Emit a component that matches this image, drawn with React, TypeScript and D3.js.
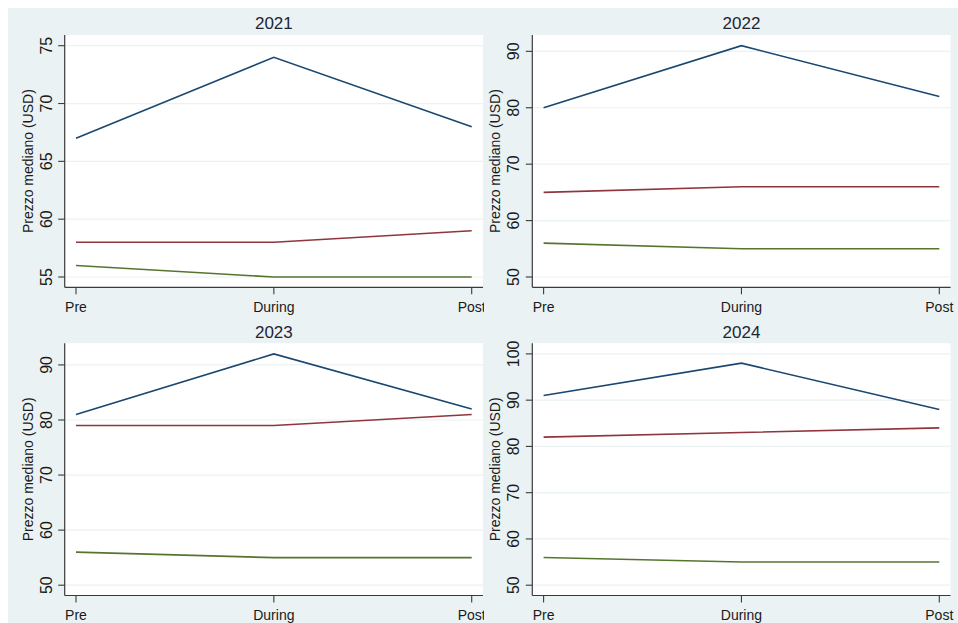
import React, { useEffect } from "react";
import * as d3 from "d3";

// Median price by period, one panel per year
const years = ["2021", "2022", "2023", "2024"];
const periods = ["Pre", "During", "Post"];
const topTier = [
  [67, 74, 68],
  [80, 91, 82],
  [81, 92, 82],
  [91, 98, 88],
];
const midTier = [
  [58, 58, 59],
  [65, 66, 66],
  [79, 79, 81],
  [82, 83, 84],
];
const lowTier = [
  [56, 55, 55],
  [56, 55, 55],
  [56, 55, 55],
  [56, 55, 55],
];
const yTicks = [
  [55, 60, 65, 70, 75],
  [50, 60, 70, 80, 90],
  [50, 60, 70, 80, 90],
  [50, 60, 70, 80, 90, 100],
];
const yTitle = "Prezzo mediano (USD)";

const PAGE_W = 958;
const PAGE_H = 623;
const INSET = 8;
const W = PAGE_W - INSET;
const H = PAGE_H - INSET;
const BG = "#eaf2f3";
const FONT = "'Liberation Sans', Arial, Helvetica, sans-serif";
const seriesColors = ["#1a476f", "#90353b", "#55752f"];

// plot-region geometry for the top-left panel; others are offset
const plotLeft = 56.7;
const plotRight = 475;
const plotTop = 27;
const plotBottom = 279.3;
const colOffset = 467.6;
const rowOffset = 308.2;
const colClip = 476;

function Panel({ idx }: { idx: number }) {
  const col = idx % 2;
  const row = Math.floor(idx / 2);
  const left = plotLeft + col * colOffset;
  const right = plotRight + col * colOffset;
  const top = plotTop + row * rowOffset;
  const bottom = plotBottom + row * rowOffset;

  const series = [topTier[idx], midTier[idx], lowTier[idx]];
  const ticks = yTicks[idx];
  const all = series.flat();
  const lo = Math.min(ticks[0], d3.min(all) as number);
  const hi = Math.max(ticks[ticks.length - 1], d3.max(all) as number);

  const x = d3
    .scalePoint<string>()
    .domain(periods)
    .range([left + 11.3, right - 11.3]);
  const y = d3
    .scaleLinear()
    .domain([lo, hi])
    .range([bottom - 10.3, top + 10.7]);

  const line = d3
    .line<number>()
    .x((_, i) => x(periods[i]) as number)
    .y((d) => y(d));

  const clipX = col === 0 ? 0 : colClip;
  const clipW = col === 0 ? colClip : W - colClip;

  return (
    <g clipPath={`url(#clip-${idx})`}>
      <defs>
        <clipPath id={`clip-${idx}`}>
          <rect x={clipX} y={0} width={clipW} height={H} />
        </clipPath>
      </defs>
      <text
        x={(left + right) / 2}
        y={top - 5.7}
        textAnchor="middle"
        fontSize={17}
        fontFamily={FONT}
        fill="#1c2533"
      >
        {years[idx]}
      </text>
      <rect x={left} y={top} width={right - left} height={bottom - top} fill="#ffffff" />
      {ticks.map((t) => (
        <line
          key={`g${t}`}
          x1={left}
          x2={right}
          y1={y(t)}
          y2={y(t)}
          stroke={BG}
          strokeWidth={1.2}
        />
      ))}
      {series.map((s, i) => (
        <path
          key={`s${i}`}
          d={line(s) as string}
          fill="none"
          stroke={seriesColors[i]}
          strokeWidth={1.6}
        />
      ))}
      {/* y axis */}
      <line x1={left} x2={left} y1={top} y2={bottom} stroke="#3a3a3a" strokeWidth={1.2} />
      {ticks.map((t) => (
        <g key={`t${t}`}>
          <line x1={left - 6.5} x2={left} y1={y(t)} y2={y(t)} stroke="#3a3a3a" strokeWidth={1.1} />
          <text
            transform={`translate(${left - 13},${y(t)}) rotate(-90)`}
            textAnchor="middle"
            fontSize={16}
            fontFamily={FONT}
            fill="#1a1a1a"
          >
            {t}
          </text>
        </g>
      ))}
      <text
        transform={`translate(${left - 32},${(top + bottom) / 2}) rotate(-90)`}
        textAnchor="middle"
        fontSize={14}
        fontFamily={FONT}
        fill="#1a1a1a"
      >
        {yTitle}
      </text>
      {/* x axis */}
      <line x1={left} x2={right} y1={bottom} y2={bottom} stroke="#3a3a3a" strokeWidth={1.2} />
      {periods.map((p) => (
        <g key={`x${p}`}>
          <line
            x1={x(p) as number}
            x2={x(p) as number}
            y1={bottom}
            y2={bottom + 7}
            stroke="#3a3a3a"
            strokeWidth={1.1}
          />
          <text
            x={x(p) as number}
            y={bottom + 24.7}
            textAnchor="middle"
            fontSize={14}
            fontFamily={FONT}
            fill="#1a1a1a"
          >
            {p}
          </text>
        </g>
      ))}
    </g>
  );
}

export default function App() {
  useEffect(() => {
    document.body.style.margin = "0";
  }, []);
  return (
    <svg width={PAGE_W} height={PAGE_H} style={{ display: "block" }}>
      <rect x={0} y={0} width={PAGE_W} height={PAGE_H} fill="#ffffff" />
      <g transform={`translate(${INSET},${INSET})`}>
        <rect x={0} y={0} width={W} height={H} fill={BG} />
        {years.map((_, i) => (
          <Panel key={i} idx={i} />
        ))}
      </g>
    </svg>
  );
}
